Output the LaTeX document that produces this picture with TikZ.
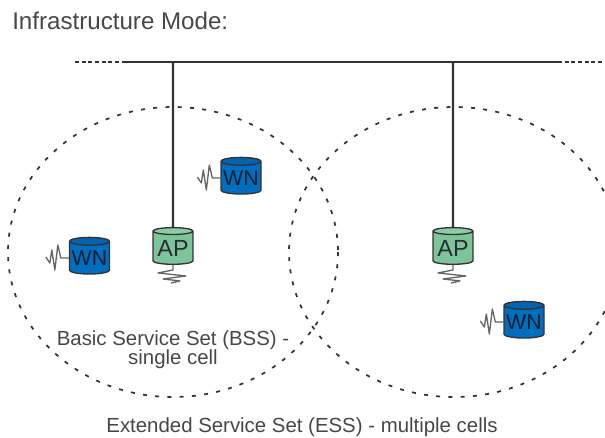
\documentclass[tikz,border=0pt]{standalone}
\usepackage{fontspec}
\setmainfont{Liberation Sans}
\usetikzlibrary{shapes.geometric}
\definecolor{apgreen}{RGB}{125,196,155}
\definecolor{apend}{RGB}{140,205,165}
\definecolor{wnblue}{RGB}{0,110,190}
\definecolor{wnend}{RGB}{0,100,175}
\definecolor{ink}{RGB}{55,50,50}
\definecolor{inktxt}{RGB}{40,45,50}
\tikzset{
  x=0.75pt,y=-0.75pt,
  cyl/.style={cylinder,shape border rotate=90,aspect=0.22,draw=ink,line width=1pt,
    minimum width=30pt,minimum height=27.5pt,inner sep=0pt,cylinder uses custom fill,
    text=inktxt,font=\fontsize{17.5}{17.5}\selectfont},
  apnode/.style={cyl,cylinder body fill=apgreen,cylinder end fill=apend},
  wnnode/.style={cyl,cylinder body fill=wnblue,cylinder end fill=wnend,text=black!75!wnblue,font=\fontsize{16}{16}\selectfont},
  cell/.style={draw=ink,line width=1.3pt,dash pattern=on 3pt off 6.2pt},
  wire/.style={draw=ink,line width=1.7pt},
  squig/.style={draw=black!60,line width=1pt,line join=round},
  lab/.style={text=black!72,font=\fontsize{15.3}{14.3}\selectfont,align=center,inner sep=0pt}
}
\begin{document}
\begin{tikzpicture}
\useasboundingbox (0,0) rectangle (605,437);
% cells
\node[draw=none,inner sep=0pt] (cellL) at (173,252) {};
\node[draw=none,inner sep=0pt] (cellR) at (454,252) {};
\draw[cell] (cellL) ellipse [x radius=165,y radius=145];
\draw[cell] (cellR) ellipse [x radius=165,y radius=145];
% bus
\coordinate (busA) at (75,62);
\coordinate (busB) at (125,62);
\coordinate (busC) at (558,62);
\coordinate (busD) at (605,62);
\coordinate (tap1) at (173,62);
\coordinate (tap2) at (453,62);
\draw[wire,dash pattern=on 3pt off 2pt] (busA) -- (busB);
\draw[wire] (busB) -- (busC);
\draw[wire,dash pattern=on 3pt off 2pt] (busC) -- (busD);
% nodes
\node[apnode] (ap1) at (173,248) {AP};
\node[apnode] (ap2) at (453,248) {AP};
\node[wnnode] (wn1) at (241,178) {WN};
\node[wnnode] (wn2) at (89.5,258) {WN};
\node[wnnode] (wn3) at (524,322) {WN};
\draw[wire] (tap1) -- (ap1.north);
\draw[wire] (tap2) -- (ap2.north);
% ground squiggles
\foreach \n in {ap1,ap2}{
  \draw[squig] (\n.south) -- ++(0,5) -- ++(-15,3) -- ++(28,3) -- ++(-23,3) -- ++(17,2) -- ++(-9,2);
}
% radio squiggles
\foreach \n in {wn1,wn2,wn3}{
  \draw[squig] (\n.west) -- ++(-8,0) -- ++(-3,-13) -- ++(-3,25) -- ++(-3,-20) -- ++(-2,13) -- ++(-4,-6);
}
% labels
\node[font=\fontsize{18.1}{18}\selectfont,text=black!72,anchor=west,inner sep=0pt] (title) at (12,21) {Infrastructure Mode:};
\node[lab] (bss) at (173,350) {Basic Service Set (BSS) -\\single cell};
\node[lab] (ess) at (302,427) {Extended Service Set (ESS) - multiple cells};
\end{tikzpicture}
\end{document}
